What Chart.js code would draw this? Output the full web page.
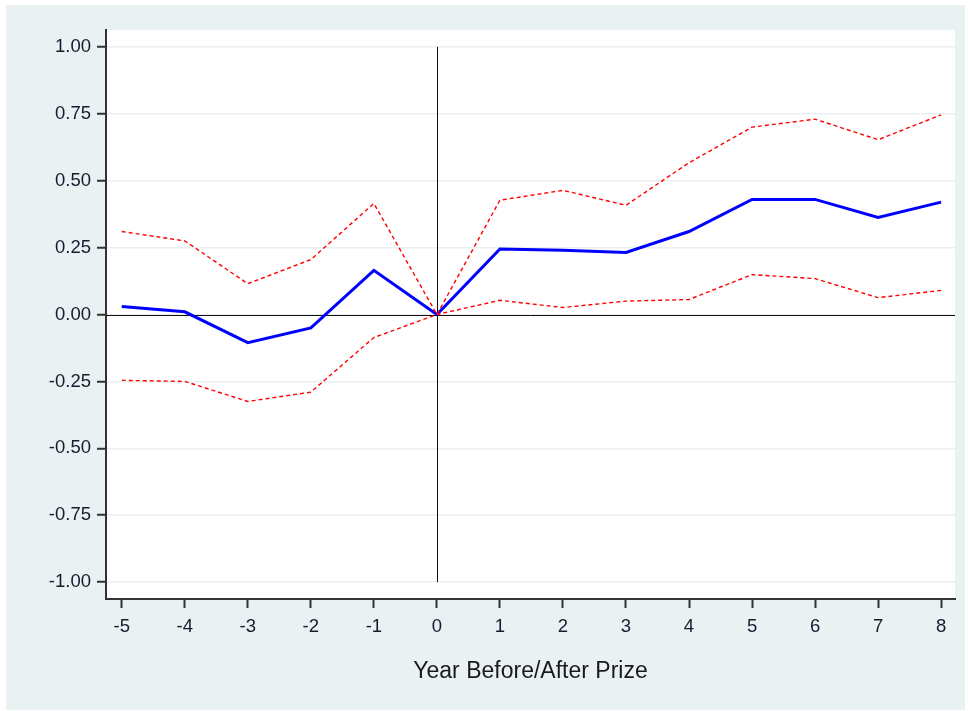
<!DOCTYPE html>
<html>
<head>
<meta charset="utf-8">
<script src="https://cdn.jsdelivr.net/npm/chart.js@4"></script>
<style>
  html, body { margin: 0; padding: 0; background: #ffffff; }
  #wrap { width: 968px; height: 711px; }
</style>
</head>
<body>
<div id="wrap"><canvas id="chart" width="968" height="711"></canvas></div>
<script>
// years relative to the prize
const years = [-5, -4, -3, -2, -1, 0, 1, 2, 3, 4, 5, 6, 7, 8];
const estimate = [0.03, 0.01, -0.105, -0.05, 0.165, 0, 0.245, 0.24, 0.232, 0.31, 0.43, 0.43, 0.363, 0.42];
const upperCI = [0.31, 0.275, 0.115, 0.205, 0.415, 0, 0.427, 0.464, 0.408, 0.567, 0.70, 0.73, 0.653, 0.746];
const lowerCI = [-0.246, -0.25, -0.325, -0.29, -0.086, 0, 0.053, 0.026, 0.05, 0.056, 0.149, 0.134, 0.063, 0.09];
const yTicks = [-1, -0.75, -0.5, -0.25, 0, 0.25, 0.5, 0.75, 1];
const xTicks = years;

const toPoints = vals => years.map((x, i) => ({ x: x, y: vals[i] }));

// background panel + reference lines at 0
const backdrop = {
    id: 'backdrop',
    beforeDraw(chart) {
        const ctx = chart.ctx;
        const a = chart.chartArea;
        ctx.save();
        ctx.fillStyle = '#eaf1f3';
        ctx.fillRect(6, 5, 959, 705);
        ctx.fillStyle = '#ffffff';
        ctx.fillRect(a.left, a.top, a.right - a.left, a.bottom - a.top);
        ctx.restore();
    },
    beforeDatasetsDraw(chart) {
        const ctx = chart.ctx;
        const a = chart.chartArea;
        const xs = chart.scales.x, ys = chart.scales.y;
        ctx.save();
        ctx.strokeStyle = '#111111';
        ctx.lineWidth = 1;
        const y0 = Math.round(ys.getPixelForValue(0)) + 0.5;
        ctx.beginPath();
        ctx.moveTo(a.left, y0);
        ctx.lineTo(a.right, y0);
        ctx.stroke();
        const x0 = Math.round(xs.getPixelForValue(0)) + 0.5;
        ctx.beginPath();
        ctx.moveTo(x0, ys.getPixelForValue(1));
        ctx.lineTo(x0, ys.getPixelForValue(-1));
        ctx.stroke();
        ctx.restore();
    }
};

const font = 'Liberation Sans, Arial, sans-serif';

new Chart(document.getElementById('chart').getContext('2d'), {
    type: 'line',
    data: {
        datasets: [
            { data: toPoints(upperCI), borderColor: '#ff0000', borderWidth: 1.4, borderDash: [4, 3] },
            { data: toPoints(lowerCI), borderColor: '#ff0000', borderWidth: 1.4, borderDash: [4, 3] },
            { data: toPoints(estimate), borderColor: '#0000ff', borderWidth: 3 }
        ]
    },
    options: {
        responsive: false,
        animation: false,
        elements: { point: { radius: 0 }, line: { tension: 0 } },
        layout: { padding: { top: 30, right: 13, left: 6, bottom: 0 } },
        plugins: { legend: { display: false }, tooltip: { enabled: false } },
        scales: {
            x: {
                type: 'linear',
                min: -5.25,
                max: 8.22,
                afterBuildTicks: s => { s.ticks = xTicks.map(v => ({ value: v })); },
                afterFit: s => { s.height = 112; },
                border: { display: true, color: '#333333', width: 2 },
                grid: { drawOnChartArea: false, tickLength: 9, tickColor: '#333333', tickWidth: 2 },
                ticks: {
                    color: '#1a1a2e', padding: 8,
                    font: { family: font, size: 18.5 },
                    callback: v => String(v)
                },
                title: {
                    display: true, text: 'Year Before/After Prize', color: '#1a1a1a',
                    font: { family: font, size: 23 },
                    padding: { top: 0, bottom: 26 }
                }
            },
            y: {
                type: 'linear',
                min: -1.063,
                max: 1.063,
                afterBuildTicks: s => { s.ticks = yTicks.map(v => ({ value: v })); },
                afterFit: s => { s.width = 100; },
                border: { display: true, color: '#333333', width: 2 },
                grid: { color: '#e8f0f2', lineWidth: 1.5, tickLength: 9, tickColor: '#333333', tickWidth: 2 },
                ticks: {
                    color: '#1a1a2e', padding: 6,
                    font: { family: font, size: 18.5 },
                    callback: v => v.toFixed(2)
                }
            }
        }
    },
    plugins: [backdrop]
});
</script>
</body>
</html>
